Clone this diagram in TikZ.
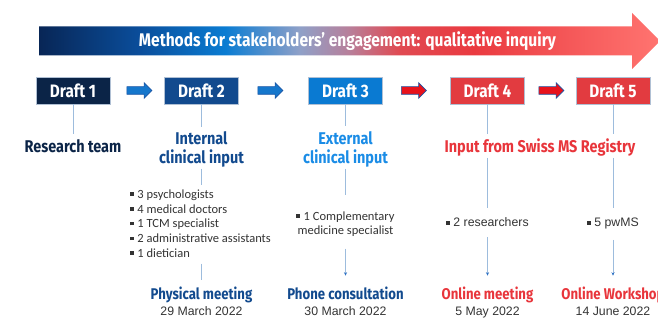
\documentclass[tikz,border=0pt]{standalone}
\usepackage{fontspec}
\usepackage{tikz}
\usetikzlibrary{arrows.meta,shapes.arrows}

\newfontfamily\headfont[FakeStretch=0.85]{Fira Sans}
\newfontfamily\bodyfont{Carlito}
\newfontfamily\datefont{Liberation Sans}

\definecolor{navy}{HTML}{0B2447}
\definecolor{midblue}{HTML}{124A8E}
\definecolor{skyblue}{HTML}{0A7AD2}
\definecolor{lightsky}{HTML}{1A8CE6}
\definecolor{regred}{HTML}{E23B40}
\definecolor{textred}{HTML}{E8353B}
\definecolor{boxline}{HTML}{B0C0D4}
\definecolor{linkblue}{HTML}{9DBCDD}
\definecolor{tipblue}{HTML}{2F72C4}
\definecolor{arrowblue}{HTML}{1577CC}
\definecolor{arrowedge}{HTML}{1B55A5}
\definecolor{arrowred}{HTML}{E8121B}
\definecolor{bodygray}{HTML}{333333}

% colours of the long arrow, left to right (25bp..75bp is the path)
\definecolor{gA}{HTML}{082656}
\definecolor{gB}{HTML}{0A4D9A}
\definecolor{gC}{HTML}{0A7CD2}
\definecolor{gD}{HTML}{8FA0C8}
\definecolor{gE}{HTML}{B87F9A}
\definecolor{gF}{HTML}{E04A52}
\definecolor{gG}{HTML}{EA3A40}
\definecolor{gH}{HTML}{FF7470}
\pgfdeclarehorizontalshading{titlegrad}{100bp}{color(0bp)=(gA); color(25bp)=(gA);
  color(33bp)=(gB); color(40bp)=(gC); color(46bp)=(gD); color(50bp)=(gE);
  color(54bp)=(gF); color(60bp)=(gG); color(75bp)=(gH); color(100bp)=(gH)}

\newcommand\sqb{\rule[0.2em]{0.28em}{0.28em}\hspace{0.3em}}

\begin{document}
\begin{tikzpicture}[x=1pt,y=-1pt,
    draft/.style={draw=boxline, line width=0.6pt, minimum width=74pt, minimum height=27pt,
      inner sep=0pt, text=white, font=\headfont\bfseries\fontsize{18}{20}\selectfont},
    lbl/.style={inner sep=0pt, align=center, font=\headfont\bfseries\fontsize{17}{19}\selectfont},
    how/.style={lbl, font=\headfont\bfseries\fontsize{15.5}{18}\selectfont},
    info/.style={inner sep=0pt, text=bodygray, font=\bodyfont\fontsize{12.5}{14.75}\selectfont},
    small/.style={inner sep=0pt, text=bodygray, font=\datefont\fontsize{12.3}{14}\selectfont},
    link/.style={draw=linkblue, line width=0.8pt},
    tip/.style={-{Stealth[length=3.5pt,width=3pt,color=tipblue]}},
    blk/.style={single arrow, minimum height=25pt, inner xsep=0pt, inner ysep=3.5pt,
      single arrow head extend=4pt, line width=0.6pt}]
  \useasboundingbox (0,0) rectangle (658,320);
  \clip (0,0) rectangle (658,320);

  % long arrow across the top
  \shade[shading=titlegrad] (39,26.5) -- (632,26.5) -- (632,13) -- (660,41)
    -- (632,69) -- (632,55.5) -- (39,55.5) -- cycle;
  \node[text=white, font=\headfont\bfseries\fontsize{18.3}{21}\selectfont] (title) at (347.5,41)
    {Methods for stakeholders’ engagement: qualitative inquiry};

  % drafts
  \foreach \i/\x/\c in {1/73/navy,2/201.5/midblue,3/345.5/skyblue,4/487.5/regred,5/613/regred}{
    \node[draft, fill=\c] (d\i) at (\x,90.5) {Draft \i};
  }
  \foreach \n/\x in {a12/137.5,a23/268.5}{
    \node[blk, draw=arrowedge, fill=arrowblue] (\n) at (\x,90.5) {};
  }
  \foreach \n/\x in {a34/412,a45/549.5}{
    \node[blk, draw=arrowedge, fill=arrowred] (\n) at (\x,90.5) {};
  }

  % who gave input
  \node[lbl, text=navy, anchor=base] (rt) at (73,153) {Research team};
  \node[lbl, text=midblue] (l2) at (201.5,149.5) {Internal\\clinical input};
  \node[lbl, text=lightsky] (l3) at (345.5,149.5) {External\\clinical input};
  \node[lbl, text=textred, anchor=base] (reg) at (540,153) {Input from Swiss MS Registry};

  % participants
  \node[info, align=left, anchor=west] (i2) at (130,223.5)
    {\sqb 3 psychologists\\ \sqb 4 medical doctors\\ \sqb 1 TCM specialist\\
     \sqb 2 administrative assistants\\ \sqb 1 dietician};
  \node[info, align=center, font=\bodyfont\fontsize{12.5}{14}\selectfont] (i3) at (345.5,224)
    {\sqb 1 Complementary\\medicine specialist};
  \node[small, anchor=base] (i4) at (487.5,227) {\sqb 2 researchers};
  \node[small, anchor=base] (i5) at (613,227) {\sqb 5 pwMS};

  % how and when
  \node[how, text=midblue, anchor=base] (m2) at (201.5,299) {Physical meeting};
  \node[how, text=midblue, anchor=base] (m3) at (345.5,299) {Phone consultation};
  \node[how, text=textred, anchor=base] (m4) at (487.5,299) {Online meeting};
  \node[how, text=textred, anchor=base] (m5) at (613,299) {Online Workshop};
  \node[small, anchor=base] (t2) at (201.5,315.5) {29 March 2022};
  \node[small, anchor=base] (t3) at (345.5,315.5) {30 March 2022};
  \node[small, anchor=base] (t4) at (487.5,315.5) {5 May 2022};
  \node[small, anchor=base] (t5) at (613,315.5) {14 June 2022};

  % connectors
  \draw[link, shorten >=5.5pt] (d1) -- (rt);
  \draw[link, shorten >=4pt] (d2) -- (l2);
  \draw[link, shorten <=1pt, shorten >=4pt] (l2) -- (l2 |- i2.north);
  \draw[link, shorten <=6pt, shorten >=6.5pt] (l2 |- i2.south) -- (m2);
  \draw[link, shorten >=5pt] (d3) -- (l3);
  \draw[link, shorten <=1pt, shorten >=16pt] (l3) -- (i3);
  \draw[link, tip, shorten <=12pt, shorten >=10.5pt] (i3) -- (m3);
  \foreach \i in {4,5}{
    \draw[link, shorten >=5.5pt] (d\i) -- (d\i |- reg.north);
    \draw[link, shorten <=1pt, shorten >=10pt] (d\i |- reg.south) -- (i\i);
    \draw[link, tip, shorten <=10pt, shorten >=10.5pt] (i\i) -- (m\i);
  }
\end{tikzpicture}
\end{document}
